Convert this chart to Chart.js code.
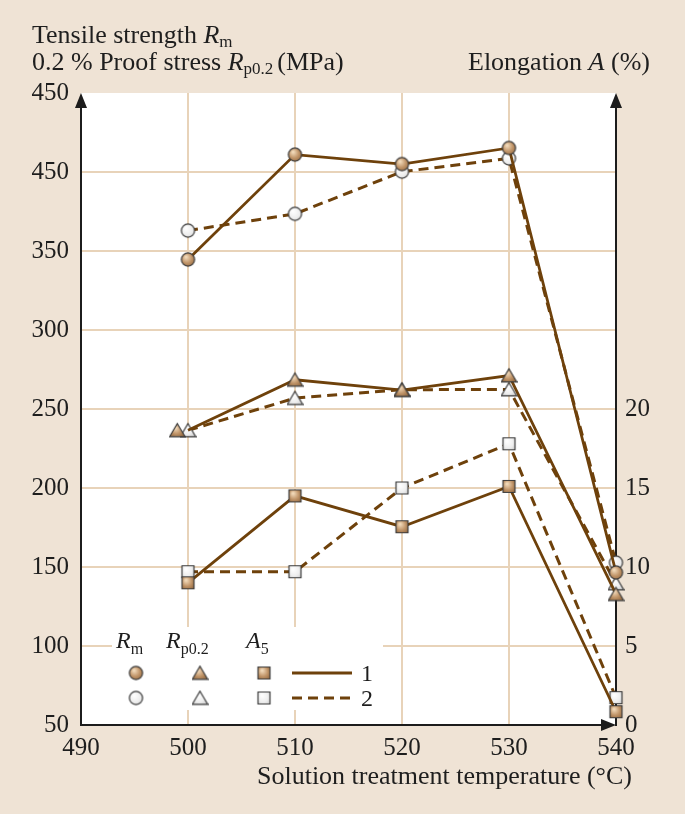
<!DOCTYPE html>
<html><head><meta charset="utf-8">
<script src="https://cdn.jsdelivr.net/npm/chart.js@4"></script>
<style>html,body{margin:0;padding:0;background:#efe3d5;}canvas{display:block;}</style>
</head><body>
<canvas id="c" width="685" height="814"></canvas>
<script>
// ---- data ----
const temperatures = [500, 510, 520, 530, 540];
const rmSeries1 = [344.6, 411, 405, 415.2, 146.5];
const rmSeries2 = [362.9, 373.5, 400.2, 408.6, 152.8];
const rpSeries1 = [236.5, 268.5, 262, 271.2, 132.8];
const rpSeries2 = [236.5, 256.9, 262.2, 262.4, 139.6];
const a5Series1 = [9.0, 14.5, 12.55, 15.1, 0.84];
const a5Series2 = [9.7, 9.7, 15.0, 17.8, 1.73];
const rpSeries1OffsetTemp = [499];     // first brown triangle is drawn shifted left
const rpSeries1OffsetValue = [236.5];
const xTickValues = [490, 500, 510, 520, 530, 540];
const leftTickValues = [50, 100, 150, 200, 250, 300, 350, 400, 450];
const leftTickLabels = ['50', '100', '150', '200', '250', '300', '350', '450', '450'];
const rightTickValues = [0, 5, 10, 15, 20];
const rightTickLabels = ['0', '5', '10', '15', '20'];

// ---- styles ----
const LINE = '#6e410b';
const GRID = '#e8d3b9';
const BG = '#efe3d5';
const AXIS = '#1c1c1c';
const SERIF = '"Liberation Serif", "DejaVu Serif", serif';

function makeMarker(shape, kind) {
  const s = 17, c = document.createElement('canvas');
  c.width = s; c.height = s;
  const g = c.getContext('2d');
  const grad = g.createRadialGradient(s * 0.38, s * 0.34, 0.5, s * 0.5, s * 0.5, s * 0.62);
  if (kind === 'brown') {
    grad.addColorStop(0, '#f3dcbd'); grad.addColorStop(0.45, '#c09468'); grad.addColorStop(1, '#7a5029');
  } else {
    grad.addColorStop(0, '#ffffff'); grad.addColorStop(0.5, '#eeeeee'); grad.addColorStop(1, '#bdbdbd');
  }
  g.beginPath();
  if (shape === 'circle') g.arc(s / 2, s / 2, 6.6, 0, Math.PI * 2);
  else if (shape === 'square') g.rect(2.5, 2.5, 12, 12);
  else { g.moveTo(s / 2, 1.8); g.lineTo(s - 0.8, 14.8); g.lineTo(0.8, 14.8); g.closePath(); }
  g.fillStyle = grad; g.fill();
  g.lineWidth = 1.2; g.strokeStyle = '#3a3a3a'; g.lineJoin = 'miter'; g.stroke();
  return c;
}
const M = {
  circB: makeMarker('circle', 'brown'), circW: makeMarker('circle', 'white'),
  triB: makeMarker('tri', 'brown'), triW: makeMarker('tri', 'white'),
  sqB: makeMarker('square', 'brown'), sqW: makeMarker('square', 'white')
};

const pts = (xs, ys) => xs.map((x, i) => ({ x: x, y: ys[i] }));
function series(data, marker, dashed, axis, radii) {
  return {
    data: data, yAxisID: axis, borderColor: LINE, borderWidth: dashed ? 3 : 2.8,
    borderDash: dashed ? [10, 6] : [], pointStyle: marker, pointRadius: radii || 6,
    showLine: true, fill: false, tension: 0, clip: false, borderCapStyle: 'butt'
  };
}

const bgPlugin = {
  id: 'bg',
  beforeDraw(chart) {
    const ctx = chart.ctx, a = chart.chartArea;
    ctx.save();
    ctx.fillStyle = BG; ctx.fillRect(0, 0, chart.width, chart.height);
    ctx.fillStyle = '#ffffff'; ctx.fillRect(a.left, a.top, a.right - a.left, a.bottom - a.top);
    ctx.restore();
  },
  beforeDatasetsDraw(chart) {
    const ctx = chart.ctx, a = chart.chartArea;
    ctx.save();
    // legend backdrop
    ctx.fillStyle = '#ffffff'; ctx.fillRect(112, 627, 271, 83);
    // axes
    ctx.strokeStyle = AXIS; ctx.fillStyle = AXIS; ctx.lineWidth = 2;
    ctx.beginPath();
    ctx.moveTo(a.left, a.top + 6); ctx.lineTo(a.left, a.bottom);
    ctx.lineTo(a.right - 6, a.bottom);
    ctx.moveTo(a.right, a.top + 6); ctx.lineTo(a.right, a.bottom + 1);
    ctx.stroke();
    // arrow heads
    const up = (x, y) => { ctx.beginPath(); ctx.moveTo(x, y); ctx.lineTo(x + 6, y + 15); ctx.lineTo(x - 6, y + 15); ctx.closePath(); ctx.fill(); };
    up(a.left, a.top); up(a.right, a.top);
    ctx.beginPath(); ctx.moveTo(a.right, a.bottom); ctx.lineTo(a.right - 15, a.bottom - 6); ctx.lineTo(a.right - 15, a.bottom + 6); ctx.closePath(); ctx.fill();
    ctx.restore();
  },
  afterDraw(chart) {
    const ctx = chart.ctx;
    ctx.save();
    ctx.fillStyle = '#1e1e1e'; ctx.textBaseline = 'alphabetic'; ctx.textAlign = 'left';
    function rich(x, y, parts) {
      for (const p of parts) {
        ctx.font = p.f;
        ctx.fillText(p.t, x, y + (p.dy || 0));
        x += ctx.measureText(p.t).width + (p.gap || 0);
      }
      return x;
    }
    const N = '26px ' + SERIF, I = 'italic 26px ' + SERIF, S = '17px ' + SERIF;
    rich(32, 43, [{ t: 'Tensile strength ', f: N }, { t: 'R', f: I }, { t: 'm', f: S, dy: 4 }]);
    rich(32, 70, [{ t: '0.2 % Proof stress ', f: N }, { t: 'R', f: I }, { t: 'p0.2', f: S, dy: 4, gap: 4 }, { t: '(MPa)', f: N }]);
    rich(468, 70, [{ t: 'Elongation ', f: N }, { t: 'A', f: I }, { t: ' (%)', f: N }]);
    ctx.font = '26px ' + SERIF; ctx.textAlign = 'right';
    ctx.fillText('Solution treatment temperature (°C)', 632, 784);
    ctx.textAlign = 'left';
    // legend
    const LN = '24px ' + SERIF, LI = 'italic 24px ' + SERIF, LS = '16px ' + SERIF;
    rich(116, 648, [{ t: 'R', f: LI }, { t: 'm', f: LS, dy: 6 }]);
    rich(166, 648, [{ t: 'R', f: LI }, { t: 'p0.2', f: LS, dy: 6 }]);
    rich(246, 648, [{ t: 'A', f: LI }, { t: '5', f: LS, dy: 6 }]);
    const rows = [[M.circB, M.triB, M.sqB, false, '1', 673], [M.circW, M.triW, M.sqW, true, '2', 698]];
    for (const r of rows) {
      const y = r[5];
      [136, 200, 264].forEach((x, i) => ctx.drawImage(r[i], x - r[i].width / 2, y - r[i].height / 2));
      ctx.beginPath(); ctx.strokeStyle = LINE; ctx.lineWidth = r[3] ? 3 : 2.8;
      ctx.setLineDash(r[3] ? [10, 6] : []);
      ctx.moveTo(292, y); ctx.lineTo(352, y); ctx.stroke(); ctx.setLineDash([]);
      ctx.font = LN; ctx.fillText(r[4], 361, y + 8);
    }
    ctx.restore();
  }
};

const tickFont = { family: SERIF, size: 25 };
new Chart(document.getElementById('c'), {
  type: 'scatter',
  data: {
    datasets: [
      series(pts(temperatures, rmSeries1), M.circB, false, 'y'),
      series(pts(temperatures, rpSeries1), M.triB, false, 'y', [0, 6, 6, 6, 6]),
      Object.assign(series(pts(rpSeries1OffsetTemp, rpSeries1OffsetValue), M.triB, false, 'y'), { showLine: false }),
      series(pts(temperatures, a5Series1), M.sqB, false, 'y1'),
      series(pts(temperatures, rmSeries2), M.circW, true, 'y'),
      series(pts(temperatures, rpSeries2), M.triW, true, 'y'),
      series(pts(temperatures, a5Series2), M.sqW, true, 'y1')
    ]
  },
  options: {
    responsive: false, animation: false, devicePixelRatio: 1,
    layout: { padding: { top: 93, left: 0, right: 0, bottom: 0 } },
    plugins: { legend: { display: false }, tooltip: { enabled: false } },
    events: [],
    scales: {
      x: {
        type: 'linear', min: 490, max: 540,
        afterBuildTicks: s => { s.ticks = xTickValues.map(v => ({ value: v })); },
        afterFit: s => { s.height = 89; },
        ticks: { font: tickFont, color: '#1e1e1e', padding: 8, callback: v => String(v), maxRotation: 0, autoSkip: false },
        grid: { drawTicks: false, lineWidth: 2, color: c => (c.tick && (c.tick.value === 490 || c.tick.value === 540)) ? 'rgba(0,0,0,0)' : GRID },
        border: { display: false }
      },
      y: {
        type: 'linear', position: 'left', min: 50, max: 450,
        afterBuildTicks: s => { s.ticks = leftTickValues.map(v => ({ value: v })); },
        afterFit: s => { s.width = 81; },
        ticks: { font: tickFont, color: '#1e1e1e', padding: 12, autoSkip: false, callback: (v, i) => leftTickLabels[i] },
        grid: { drawTicks: false, lineWidth: 2, color: c => (c.tick && (c.tick.value === 50 || c.tick.value === 450)) ? 'rgba(0,0,0,0)' : GRID },
        border: { display: false }
      },
      y1: {
        type: 'linear', position: 'right', min: 0, max: 40,
        afterBuildTicks: s => { s.ticks = rightTickValues.map(v => ({ value: v })); },
        afterFit: s => { s.width = 69; },
        ticks: { font: tickFont, color: '#1e1e1e', padding: 9, autoSkip: false, callback: (v, i) => rightTickLabels[i] },
        grid: { drawOnChartArea: false, drawTicks: false },
        border: { display: false }
      }
    }
  },
  plugins: [bgPlugin]
});
</script>
</body></html>
